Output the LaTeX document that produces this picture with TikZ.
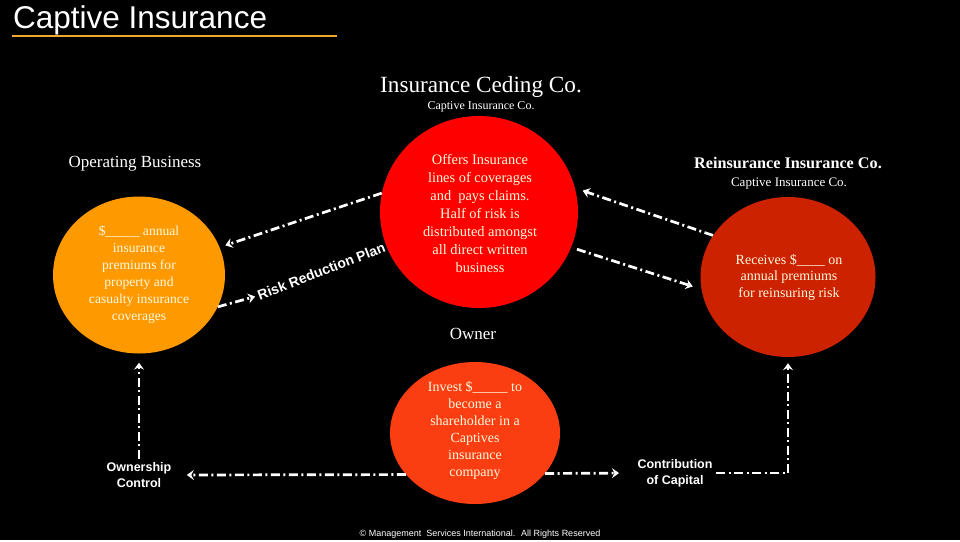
\documentclass[tikz,border=0pt]{standalone}
\usepackage{fontspec}
\setmainfont{Liberation Serif}
\setsansfont{Liberation Sans}
\usetikzlibrary{arrows.meta,shapes.geometric}
\definecolor{bizorange}{RGB}{255,153,0}
\definecolor{cedred}{RGB}{255,0,0}
\definecolor{reinsred}{RGB}{204,34,0}
\definecolor{ownred}{RGB}{250,62,18}
\definecolor{titlegold}{RGB}{238,168,48}
\definecolor{paletext}{RGB}{255,250,222}

\begin{document}
\begin{tikzpicture}[x=1pt,y=-1pt,>={Stealth[length=7pt,width=10pt,inset=2.5pt]},line cap=butt,
  blob/.style={ellipse,inner sep=0pt},
  blobtext/.style={text=paletext,align=center,font=\fontsize{13.6}{17}\selectfont},
  heading/.style={text=white,font=\fontsize{17}{20}\selectfont},
  subhead/.style={text=white,font=\fontsize{13}{15}\selectfont},
  flow/.style={->,white,line width=2.7pt,dash pattern=on 9pt off 3.5pt on 2pt off 3.5pt},
  sidelabel/.style={text=white,align=center,font=\sffamily\bfseries\fontsize{12.5}{16}\selectfont}]
\fill[black] (0,0) rectangle (960,540);
% title
\node[anchor=base west,inner sep=0pt,text=white,font=\sffamily\fontsize{31.5}{34}\selectfont] (title) at (13,28) {Captive Insurance};
\draw[titlegold,line width=2.5pt] (12,36) -- (337,36);
% circles
\node[blob,fill=bizorange,minimum width=172pt,minimum height=157pt] (operating) at (139,275) {};
\node[blob,fill=cedred,minimum width=198pt,minimum height=192pt] (ceding) at (479,212) {};
\node[blob,fill=reinsred,minimum width=175pt,minimum height=160pt] (reins) at (788,277) {};
\node[blob,fill=ownred,minimum width=170pt,minimum height=142pt] (shareholder) at (475,433) {};
\node[blobtext] (operatingtxt) at (operating.center) {\$\_\_\_\_\_ annual\\insurance\\premiums for\\property and\\casualty insurance\\coverages};
\node[blobtext,font=\fontsize{14.4}{18}\selectfont] (cedingtxt) at (480,213) {Offers Insurance\\lines of coverages\\and~ pays claims.\\Half of risk is\\distributed amongst\\all direct written\\business};
\node[blobtext,font=\fontsize{14}{16.5}\selectfont] (reinstxt) at (789,277) {Receives \$\_\_\_\_ on\\annual premiums\\for reinsuring risk};
\node[blobtext,font=\fontsize{14}{17}\selectfont] (sharetxt) at (475,430) {Invest \$\_\_\_\_\_ to\\become a\\shareholder in a\\Captives\\insurance\\company};
% headings
\node[anchor=base,text=white,font=\fontsize{23.2}{26}\selectfont] (cedingname) at (481,92) {Insurance Ceding Co.};
\node[subhead,anchor=base,font=\fontsize{12}{14}\selectfont] (cedingsub) at (481,109) {Captive Insurance Co.};
\node[heading,anchor=base] (bizname) at (135,167) {Operating Business};
\node[heading,anchor=base,font=\bfseries\fontsize{16.2}{19}\selectfont] (reinsname) at (788,168) {Reinsurance Insurance Co.};
\node[subhead,anchor=base] (reinssub) at (789,186) {Captive Insurance Co.};
\node[heading,anchor=base] (ownername) at (473,339) {Owner};
% labels
\node[rotate=21,anchor=west,inner sep=1pt,text=white,font=\sffamily\bfseries\fontsize{14}{16}\selectfont] (riskplan) at (257,296) {Risk Reduction Plan};
\node[sidelabel] (ownctl) at (139,475) {Ownership\\Control};
\node[sidelabel] (contrib) at (675,473) {Contribution\\of Capital};
\node[anchor=base,text=white,font=\sffamily\fontsize{9}{11}\selectfont] (rights) at (480,536) {\textcopyright{} Management~ Services International.~ All Rights Reserved};
% connectors
\draw[flow,shorten >=6pt] (ceding.169) -- (operating.19);
\draw[flow,shorten >=2pt] (operating.-22) -- (riskplan.west);
\draw[flow,shorten >=8pt] (reins.151) -- (ceding.14);
\draw[flow,shorten <=6pt,shorten >=9pt] (ceding.-21) -- (reins.188);
\draw[flow,shorten >=9pt] (ownctl.north) -- (operating.south);
\draw[flow,shorten >=12pt] (shareholder.211) -- (ownctl.east);
\draw[flow,shorten >=15pt] (shareholder.-30) -- (contrib.west);
\draw[flow,shorten >=6pt] (contrib.east) -| (reins.south);
\end{tikzpicture}
\end{document}
